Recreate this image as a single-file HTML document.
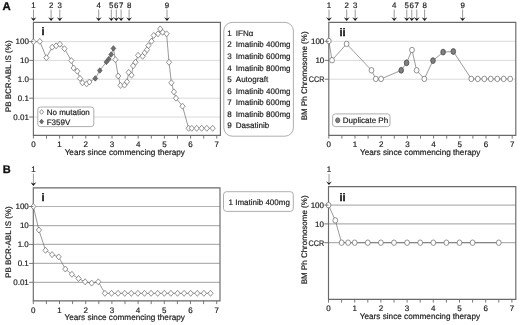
<!DOCTYPE html>
<html lang="en"><head><meta charset="utf-8"><title>Figure</title>
<style>
html,body{margin:0;padding:0;background:#fff;}
body{width:520px;height:325px;overflow:hidden;}
svg{display:block;font-family:'Liberation Sans', Arial, Helvetica, sans-serif;text-rendering:geometricPrecision;}
text{stroke:#1a1a1a;stroke-width:0.18px;}
</style></head><body>
<svg width="520" height="325" viewBox="0 0 520 325" font-family="'Liberation Sans', Arial, Helvetica, sans-serif">
<rect width="520" height="325" fill="#fff"/>
<line x1="33.4" y1="41.6" x2="220.4" y2="41.6" stroke="#d6d6d6" stroke-width="0.9"/>
<line x1="33.4" y1="60.4" x2="220.4" y2="60.4" stroke="#d6d6d6" stroke-width="0.9"/>
<line x1="33.4" y1="79.2" x2="220.4" y2="79.2" stroke="#d6d6d6" stroke-width="0.9"/>
<line x1="33.4" y1="98.2" x2="220.4" y2="98.2" stroke="#d6d6d6" stroke-width="0.9"/>
<line x1="33.4" y1="117.0" x2="220.4" y2="117.0" stroke="#d6d6d6" stroke-width="0.9"/>
<path d="M33.4 22.4H220.4V135.3H33.4Z" fill="none" stroke="#6a6a6a" stroke-width="1.15"/>
<polyline points="33.40,41.70 39.80,41.40 46.40,57.70 52.20,47.20 56.10,45.80 59.90,44.20 64.50,48.70 71.30,60.60 73.60,68.00 77.30,71.20 80.00,78.40 82.40,82.80 86.60,83.80 89.40,82.00 95.30,78.40 99.80,70.50 106.40,61.90 108.80,59.10 111.20,54.50 113.40,48.40 115.40,59.60 118.20,76.00 120.50,85.40 124.50,85.10 127.00,81.80 128.70,72.40 131.50,75.20 133.10,65.80 135.50,62.30 138.10,55.30 142.60,56.30 144.70,52.80 147.00,49.70 148.40,45.60 151.50,41.20 153.70,35.40 158.00,33.80 160.20,28.90 162.70,32.30 166.60,33.80 169.00,62.30 171.40,82.80 173.90,91.90 176.00,98.20 182.50,106.20 188.60,128.30 191.80,128.30 196.70,128.30 201.60,128.30 206.80,128.30 212.70,128.30" fill="none" stroke="#555" stroke-width="0.6"/>
<path d="M33.40 38.70L36.00 41.70L33.40 44.70L30.80 41.70Z" fill="#fff" stroke="#666" stroke-width="0.7"/>
<path d="M39.80 38.40L42.40 41.40L39.80 44.40L37.20 41.40Z" fill="#fff" stroke="#666" stroke-width="0.7"/>
<path d="M46.40 54.70L49.00 57.70L46.40 60.70L43.80 57.70Z" fill="#fff" stroke="#666" stroke-width="0.7"/>
<path d="M52.20 44.20L54.80 47.20L52.20 50.20L49.60 47.20Z" fill="#fff" stroke="#666" stroke-width="0.7"/>
<path d="M56.10 42.80L58.70 45.80L56.10 48.80L53.50 45.80Z" fill="#fff" stroke="#666" stroke-width="0.7"/>
<path d="M59.90 41.20L62.50 44.20L59.90 47.20L57.30 44.20Z" fill="#fff" stroke="#666" stroke-width="0.7"/>
<path d="M64.50 45.70L67.10 48.70L64.50 51.70L61.90 48.70Z" fill="#fff" stroke="#666" stroke-width="0.7"/>
<path d="M71.30 57.60L73.90 60.60L71.30 63.60L68.70 60.60Z" fill="#fff" stroke="#666" stroke-width="0.7"/>
<path d="M73.60 65.00L76.20 68.00L73.60 71.00L71.00 68.00Z" fill="#fff" stroke="#666" stroke-width="0.7"/>
<path d="M77.30 68.20L79.90 71.20L77.30 74.20L74.70 71.20Z" fill="#fff" stroke="#666" stroke-width="0.7"/>
<path d="M80.00 75.40L82.60 78.40L80.00 81.40L77.40 78.40Z" fill="#fff" stroke="#666" stroke-width="0.7"/>
<path d="M82.40 79.80L85.00 82.80L82.40 85.80L79.80 82.80Z" fill="#fff" stroke="#666" stroke-width="0.7"/>
<path d="M86.60 80.80L89.20 83.80L86.60 86.80L84.00 83.80Z" fill="#fff" stroke="#666" stroke-width="0.7"/>
<path d="M89.40 79.00L92.00 82.00L89.40 85.00L86.80 82.00Z" fill="#fff" stroke="#666" stroke-width="0.7"/>
<path d="M115.40 56.60L118.00 59.60L115.40 62.60L112.80 59.60Z" fill="#fff" stroke="#666" stroke-width="0.7"/>
<path d="M118.20 73.00L120.80 76.00L118.20 79.00L115.60 76.00Z" fill="#fff" stroke="#666" stroke-width="0.7"/>
<path d="M120.50 82.40L123.10 85.40L120.50 88.40L117.90 85.40Z" fill="#fff" stroke="#666" stroke-width="0.7"/>
<path d="M124.50 82.10L127.10 85.10L124.50 88.10L121.90 85.10Z" fill="#fff" stroke="#666" stroke-width="0.7"/>
<path d="M127.00 78.80L129.60 81.80L127.00 84.80L124.40 81.80Z" fill="#fff" stroke="#666" stroke-width="0.7"/>
<path d="M128.70 69.40L131.30 72.40L128.70 75.40L126.10 72.40Z" fill="#fff" stroke="#666" stroke-width="0.7"/>
<path d="M131.50 72.20L134.10 75.20L131.50 78.20L128.90 75.20Z" fill="#fff" stroke="#666" stroke-width="0.7"/>
<path d="M133.10 62.80L135.70 65.80L133.10 68.80L130.50 65.80Z" fill="#fff" stroke="#666" stroke-width="0.7"/>
<path d="M135.50 59.30L138.10 62.30L135.50 65.30L132.90 62.30Z" fill="#fff" stroke="#666" stroke-width="0.7"/>
<path d="M138.10 52.30L140.70 55.30L138.10 58.30L135.50 55.30Z" fill="#fff" stroke="#666" stroke-width="0.7"/>
<path d="M142.60 53.30L145.20 56.30L142.60 59.30L140.00 56.30Z" fill="#fff" stroke="#666" stroke-width="0.7"/>
<path d="M144.70 49.80L147.30 52.80L144.70 55.80L142.10 52.80Z" fill="#fff" stroke="#666" stroke-width="0.7"/>
<path d="M147.00 46.70L149.60 49.70L147.00 52.70L144.40 49.70Z" fill="#fff" stroke="#666" stroke-width="0.7"/>
<path d="M148.40 42.60L151.00 45.60L148.40 48.60L145.80 45.60Z" fill="#fff" stroke="#666" stroke-width="0.7"/>
<path d="M151.50 38.20L154.10 41.20L151.50 44.20L148.90 41.20Z" fill="#fff" stroke="#666" stroke-width="0.7"/>
<path d="M153.70 32.40L156.30 35.40L153.70 38.40L151.10 35.40Z" fill="#fff" stroke="#666" stroke-width="0.7"/>
<path d="M158.00 30.80L160.60 33.80L158.00 36.80L155.40 33.80Z" fill="#fff" stroke="#666" stroke-width="0.7"/>
<path d="M160.20 25.90L162.80 28.90L160.20 31.90L157.60 28.90Z" fill="#fff" stroke="#666" stroke-width="0.7"/>
<path d="M162.70 29.30L165.30 32.30L162.70 35.30L160.10 32.30Z" fill="#fff" stroke="#666" stroke-width="0.7"/>
<path d="M166.60 30.80L169.20 33.80L166.60 36.80L164.00 33.80Z" fill="#fff" stroke="#666" stroke-width="0.7"/>
<path d="M169.00 59.30L171.60 62.30L169.00 65.30L166.40 62.30Z" fill="#fff" stroke="#666" stroke-width="0.7"/>
<path d="M171.40 79.80L174.00 82.80L171.40 85.80L168.80 82.80Z" fill="#fff" stroke="#666" stroke-width="0.7"/>
<path d="M173.90 88.90L176.50 91.90L173.90 94.90L171.30 91.90Z" fill="#fff" stroke="#666" stroke-width="0.7"/>
<path d="M176.00 95.20L178.60 98.20L176.00 101.20L173.40 98.20Z" fill="#fff" stroke="#666" stroke-width="0.7"/>
<path d="M182.50 103.20L185.10 106.20L182.50 109.20L179.90 106.20Z" fill="#fff" stroke="#666" stroke-width="0.7"/>
<path d="M188.60 125.30L191.20 128.30L188.60 131.30L186.00 128.30Z" fill="#fff" stroke="#666" stroke-width="0.7"/>
<path d="M191.80 125.30L194.40 128.30L191.80 131.30L189.20 128.30Z" fill="#fff" stroke="#666" stroke-width="0.7"/>
<path d="M196.70 125.30L199.30 128.30L196.70 131.30L194.10 128.30Z" fill="#fff" stroke="#666" stroke-width="0.7"/>
<path d="M201.60 125.30L204.20 128.30L201.60 131.30L199.00 128.30Z" fill="#fff" stroke="#666" stroke-width="0.7"/>
<path d="M206.80 125.30L209.40 128.30L206.80 131.30L204.20 128.30Z" fill="#fff" stroke="#666" stroke-width="0.7"/>
<path d="M212.70 125.30L215.30 128.30L212.70 131.30L210.10 128.30Z" fill="#fff" stroke="#666" stroke-width="0.7"/>
<path d="M95.30 75.65L97.65 78.40L95.30 81.15L92.95 78.40Z" fill="#6e6e6e" stroke="#505050" stroke-width="0.7"/>
<path d="M99.80 67.75L102.15 70.50L99.80 73.25L97.45 70.50Z" fill="#6e6e6e" stroke="#505050" stroke-width="0.7"/>
<path d="M106.40 59.15L108.75 61.90L106.40 64.65L104.05 61.90Z" fill="#6e6e6e" stroke="#505050" stroke-width="0.7"/>
<path d="M108.80 56.35L111.15 59.10L108.80 61.85L106.45 59.10Z" fill="#6e6e6e" stroke="#505050" stroke-width="0.7"/>
<path d="M111.20 51.75L113.55 54.50L111.20 57.25L108.85 54.50Z" fill="#6e6e6e" stroke="#505050" stroke-width="0.7"/>
<path d="M113.40 45.65L115.75 48.40L113.40 51.15L111.05 48.40Z" fill="#6e6e6e" stroke="#505050" stroke-width="0.7"/>
<line x1="33.40" y1="135.3" x2="33.40" y2="138.60000000000002" stroke="#6a6a6a" stroke-width="0.9"/>
<text x="33.40" y="147.0" font-size="8" text-anchor="middle" font-weight="normal" fill="#1a1a1a" >0</text>
<line x1="46.50" y1="135.3" x2="46.50" y2="138.60000000000002" stroke="#6a6a6a" stroke-width="0.9"/>
<line x1="59.60" y1="135.3" x2="59.60" y2="138.60000000000002" stroke="#6a6a6a" stroke-width="0.9"/>
<text x="59.60" y="147.0" font-size="8" text-anchor="middle" font-weight="normal" fill="#1a1a1a" >1</text>
<line x1="72.70" y1="135.3" x2="72.70" y2="138.60000000000002" stroke="#6a6a6a" stroke-width="0.9"/>
<line x1="85.80" y1="135.3" x2="85.80" y2="138.60000000000002" stroke="#6a6a6a" stroke-width="0.9"/>
<text x="85.80" y="147.0" font-size="8" text-anchor="middle" font-weight="normal" fill="#1a1a1a" >2</text>
<line x1="98.90" y1="135.3" x2="98.90" y2="138.60000000000002" stroke="#6a6a6a" stroke-width="0.9"/>
<line x1="112.00" y1="135.3" x2="112.00" y2="138.60000000000002" stroke="#6a6a6a" stroke-width="0.9"/>
<text x="112.00" y="147.0" font-size="8" text-anchor="middle" font-weight="normal" fill="#1a1a1a" >3</text>
<line x1="125.10" y1="135.3" x2="125.10" y2="138.60000000000002" stroke="#6a6a6a" stroke-width="0.9"/>
<line x1="138.20" y1="135.3" x2="138.20" y2="138.60000000000002" stroke="#6a6a6a" stroke-width="0.9"/>
<text x="138.20" y="147.0" font-size="8" text-anchor="middle" font-weight="normal" fill="#1a1a1a" >4</text>
<line x1="151.30" y1="135.3" x2="151.30" y2="138.60000000000002" stroke="#6a6a6a" stroke-width="0.9"/>
<line x1="164.40" y1="135.3" x2="164.40" y2="138.60000000000002" stroke="#6a6a6a" stroke-width="0.9"/>
<text x="164.40" y="147.0" font-size="8" text-anchor="middle" font-weight="normal" fill="#1a1a1a" >5</text>
<line x1="177.50" y1="135.3" x2="177.50" y2="138.60000000000002" stroke="#6a6a6a" stroke-width="0.9"/>
<line x1="190.60" y1="135.3" x2="190.60" y2="138.60000000000002" stroke="#6a6a6a" stroke-width="0.9"/>
<text x="190.60" y="147.0" font-size="8" text-anchor="middle" font-weight="normal" fill="#1a1a1a" >6</text>
<line x1="203.70" y1="135.3" x2="203.70" y2="138.60000000000002" stroke="#6a6a6a" stroke-width="0.9"/>
<line x1="216.80" y1="135.3" x2="216.80" y2="138.60000000000002" stroke="#6a6a6a" stroke-width="0.9"/>
<text x="216.80" y="147.0" font-size="8" text-anchor="middle" font-weight="normal" fill="#1a1a1a" >7</text>
<text x="124.80" y="154.8" font-size="8.2" text-anchor="middle" font-weight="normal" fill="#1a1a1a" >Years since commencing therapy</text>
<line x1="29.2" y1="41.6" x2="33.4" y2="41.6" stroke="#6a6a6a" stroke-width="0.9"/>
<text x="28.9" y="44.45" font-size="8" text-anchor="end" font-weight="normal" fill="#1a1a1a" >100</text>
<line x1="29.2" y1="60.4" x2="33.4" y2="60.4" stroke="#6a6a6a" stroke-width="0.9"/>
<text x="28.9" y="63.25" font-size="8" text-anchor="end" font-weight="normal" fill="#1a1a1a" >10</text>
<line x1="29.2" y1="79.2" x2="33.4" y2="79.2" stroke="#6a6a6a" stroke-width="0.9"/>
<text x="28.9" y="82.05" font-size="8" text-anchor="end" font-weight="normal" fill="#1a1a1a" >1.0</text>
<line x1="29.2" y1="98.2" x2="33.4" y2="98.2" stroke="#6a6a6a" stroke-width="0.9"/>
<text x="28.9" y="101.05" font-size="8" text-anchor="end" font-weight="normal" fill="#1a1a1a" >0.1</text>
<line x1="29.2" y1="117.0" x2="33.4" y2="117.0" stroke="#6a6a6a" stroke-width="0.9"/>
<text x="28.9" y="119.85" font-size="8" text-anchor="end" font-weight="normal" fill="#1a1a1a" >0.01</text>
<text transform="translate(10.5 76.3) rotate(-90)" font-size="8" text-anchor="middle" fill="#1a1a1a">PB BCR-ABL IS (%)</text>
<text x="41.6" y="35.3" font-size="11" text-anchor="start" font-weight="bold" fill="#111" style="stroke:#111;stroke-width:0.3px">i</text>
<rect x="37.8" y="107" width="56" height="19.6" rx="2.6" fill="#fff" stroke="#999" stroke-width="0.8"/>
<path d="M41.60 109.60L43.60 112.00L41.60 114.40L39.60 112.00Z" fill="#fff" stroke="#666" stroke-width="0.7"/>
<path d="M41.60 119.20L43.60 121.60L41.60 124.00L39.60 121.60Z" fill="#6e6e6e" stroke="#505050" stroke-width="0.7"/>
<text x="46.7" y="114.9" font-size="8" text-anchor="start" font-weight="normal" fill="#1a1a1a" >No mutation</text>
<text x="46.7" y="124.6" font-size="8" text-anchor="start" font-weight="normal" fill="#1a1a1a" >F359V</text>
<line x1="33.5" y1="9.6" x2="33.5" y2="19.9" stroke="#555" stroke-width="0.6"/>
<path d="M30.60 17.30L33.50 18.80L36.40 17.30L33.50 20.90Z" fill="#111"/>
<text x="33.5" y="8.1" font-size="7.9" text-anchor="middle" font-weight="normal" fill="#1a1a1a" >1</text>
<line x1="51.1" y1="9.6" x2="51.1" y2="19.9" stroke="#555" stroke-width="0.6"/>
<path d="M48.20 17.30L51.10 18.80L54.00 17.30L51.10 20.90Z" fill="#111"/>
<text x="51.1" y="8.1" font-size="7.9" text-anchor="middle" font-weight="normal" fill="#1a1a1a" >2</text>
<line x1="59.8" y1="9.6" x2="59.8" y2="19.9" stroke="#555" stroke-width="0.6"/>
<path d="M56.90 17.30L59.80 18.80L62.70 17.30L59.80 20.90Z" fill="#111"/>
<text x="59.8" y="8.1" font-size="7.9" text-anchor="middle" font-weight="normal" fill="#1a1a1a" >3</text>
<line x1="98.7" y1="9.6" x2="98.7" y2="19.9" stroke="#555" stroke-width="0.6"/>
<path d="M95.80 17.30L98.70 18.80L101.60 17.30L98.70 20.90Z" fill="#111"/>
<text x="98.7" y="8.1" font-size="7.9" text-anchor="middle" font-weight="normal" fill="#1a1a1a" >4</text>
<line x1="111.3" y1="9.6" x2="111.3" y2="19.9" stroke="#555" stroke-width="0.6"/>
<path d="M108.40 17.30L111.30 18.80L114.20 17.30L111.30 20.90Z" fill="#111"/>
<text x="111.3" y="8.1" font-size="7.9" text-anchor="middle" font-weight="normal" fill="#1a1a1a" >5</text>
<line x1="116.3" y1="9.6" x2="116.3" y2="19.9" stroke="#555" stroke-width="0.6"/>
<path d="M113.40 17.30L116.30 18.80L119.20 17.30L116.30 20.90Z" fill="#111"/>
<text x="116.3" y="8.1" font-size="7.9" text-anchor="middle" font-weight="normal" fill="#1a1a1a" >6</text>
<line x1="121.1" y1="9.6" x2="121.1" y2="19.9" stroke="#555" stroke-width="0.6"/>
<path d="M118.20 17.30L121.10 18.80L124.00 17.30L121.10 20.90Z" fill="#111"/>
<text x="121.1" y="8.1" font-size="7.9" text-anchor="middle" font-weight="normal" fill="#1a1a1a" >7</text>
<line x1="129.1" y1="9.6" x2="129.1" y2="19.9" stroke="#555" stroke-width="0.6"/>
<path d="M126.20 17.30L129.10 18.80L132.00 17.30L129.10 20.90Z" fill="#111"/>
<text x="129.1" y="8.1" font-size="7.9" text-anchor="middle" font-weight="normal" fill="#1a1a1a" >8</text>
<line x1="167.0" y1="9.6" x2="167.0" y2="19.9" stroke="#555" stroke-width="0.6"/>
<path d="M164.10 17.30L167.00 18.80L169.90 17.30L167.00 20.90Z" fill="#111"/>
<text x="167.0" y="8.1" font-size="7.9" text-anchor="middle" font-weight="normal" fill="#1a1a1a" >9</text>
<text x="2.6" y="9.9" font-size="11.4" text-anchor="start" font-weight="bold" fill="#111" style="stroke:#111;stroke-width:0.3px">A</text>
<rect x="223.8" y="22.4" width="69.6" height="113.8" rx="8.5" fill="#fff" stroke="#999" stroke-width="0.8"/>
<text x="227.3" y="35.80" font-size="8" text-anchor="start" font-weight="normal" fill="#1a1a1a" >1</text>
<text x="235.8" y="35.80" font-size="8" text-anchor="start" font-weight="normal" fill="#1a1a1a" >IFNα</text>
<text x="227.3" y="47.38" font-size="8" text-anchor="start" font-weight="normal" fill="#1a1a1a" >2</text>
<text x="235.8" y="47.38" font-size="8" text-anchor="start" font-weight="normal" fill="#1a1a1a" >Imatinib 400mg</text>
<text x="227.3" y="58.96" font-size="8" text-anchor="start" font-weight="normal" fill="#1a1a1a" >3</text>
<text x="235.8" y="58.96" font-size="8" text-anchor="start" font-weight="normal" fill="#1a1a1a" >Imatinib 600mg</text>
<text x="227.3" y="70.54" font-size="8" text-anchor="start" font-weight="normal" fill="#1a1a1a" >4</text>
<text x="235.8" y="70.54" font-size="8" text-anchor="start" font-weight="normal" fill="#1a1a1a" >Imatinib 800mg</text>
<text x="227.3" y="82.12" font-size="8" text-anchor="start" font-weight="normal" fill="#1a1a1a" >5</text>
<text x="235.8" y="82.12" font-size="8" text-anchor="start" font-weight="normal" fill="#1a1a1a" >Autograft</text>
<text x="227.3" y="93.70" font-size="8" text-anchor="start" font-weight="normal" fill="#1a1a1a" >6</text>
<text x="235.8" y="93.70" font-size="8" text-anchor="start" font-weight="normal" fill="#1a1a1a" >Imatinib 400mg</text>
<text x="227.3" y="105.28" font-size="8" text-anchor="start" font-weight="normal" fill="#1a1a1a" >7</text>
<text x="235.8" y="105.28" font-size="8" text-anchor="start" font-weight="normal" fill="#1a1a1a" >Imatinib 600mg</text>
<text x="227.3" y="116.86" font-size="8" text-anchor="start" font-weight="normal" fill="#1a1a1a" >8</text>
<text x="235.8" y="116.86" font-size="8" text-anchor="start" font-weight="normal" fill="#1a1a1a" >Imatinib 800mg</text>
<text x="227.3" y="128.44" font-size="8" text-anchor="start" font-weight="normal" fill="#1a1a1a" >9</text>
<text x="235.8" y="128.44" font-size="8" text-anchor="start" font-weight="normal" fill="#1a1a1a" >Dasatinib</text>
<line x1="328.8" y1="41.3" x2="515.8" y2="41.3" stroke="#d6d6d6" stroke-width="0.9"/>
<line x1="328.8" y1="60.4" x2="515.8" y2="60.4" stroke="#d6d6d6" stroke-width="0.9"/>
<line x1="328.8" y1="79.2" x2="515.8" y2="79.2" stroke="#d6d6d6" stroke-width="0.9"/>
<path d="M328.8 22.4H515.8V135.3H328.8Z" fill="none" stroke="#6a6a6a" stroke-width="1.15"/>
<polyline points="328.80,41.00 332.00,60.20 346.60,43.90 371.50,70.30 375.80,78.90 381.10,78.90 401.20,70.30 406.60,62.80 412.00,50.00 416.60,70.30 424.30,78.90 433.00,60.60 443.10,52.10 453.30,51.50 471.30,78.90 477.80,78.90 484.30,78.90 490.80,78.90 497.30,78.90 503.70,78.90 510.20,78.90" fill="none" stroke="#555" stroke-width="0.6"/>
<ellipse cx="328.80" cy="41.00" rx="2.4" ry="2.75" fill="#fff" stroke="#666" stroke-width="0.7"/>
<ellipse cx="332.00" cy="60.20" rx="2.4" ry="2.75" fill="#fff" stroke="#666" stroke-width="0.7"/>
<ellipse cx="346.60" cy="43.90" rx="2.4" ry="2.75" fill="#fff" stroke="#666" stroke-width="0.7"/>
<ellipse cx="371.50" cy="70.30" rx="2.4" ry="2.75" fill="#fff" stroke="#666" stroke-width="0.7"/>
<ellipse cx="375.80" cy="78.90" rx="2.4" ry="2.75" fill="#fff" stroke="#666" stroke-width="0.7"/>
<ellipse cx="381.10" cy="78.90" rx="2.4" ry="2.75" fill="#fff" stroke="#666" stroke-width="0.7"/>
<ellipse cx="401.20" cy="70.30" rx="2.3" ry="2.9" fill="#808080" stroke="#484848" stroke-width="0.8"/>
<ellipse cx="406.60" cy="62.80" rx="2.3" ry="2.9" fill="#808080" stroke="#484848" stroke-width="0.8"/>
<ellipse cx="412.00" cy="50.00" rx="2.4" ry="2.75" fill="#fff" stroke="#666" stroke-width="0.7"/>
<ellipse cx="416.60" cy="70.30" rx="2.4" ry="2.75" fill="#fff" stroke="#666" stroke-width="0.7"/>
<ellipse cx="424.30" cy="78.90" rx="2.4" ry="2.75" fill="#fff" stroke="#666" stroke-width="0.7"/>
<ellipse cx="433.00" cy="60.60" rx="2.3" ry="2.9" fill="#808080" stroke="#484848" stroke-width="0.8"/>
<ellipse cx="443.10" cy="52.10" rx="2.3" ry="2.9" fill="#808080" stroke="#484848" stroke-width="0.8"/>
<ellipse cx="453.30" cy="51.50" rx="2.3" ry="2.9" fill="#808080" stroke="#484848" stroke-width="0.8"/>
<ellipse cx="471.30" cy="78.90" rx="2.4" ry="2.75" fill="#fff" stroke="#666" stroke-width="0.7"/>
<ellipse cx="477.80" cy="78.90" rx="2.4" ry="2.75" fill="#fff" stroke="#666" stroke-width="0.7"/>
<ellipse cx="484.30" cy="78.90" rx="2.4" ry="2.75" fill="#fff" stroke="#666" stroke-width="0.7"/>
<ellipse cx="490.80" cy="78.90" rx="2.4" ry="2.75" fill="#fff" stroke="#666" stroke-width="0.7"/>
<ellipse cx="497.30" cy="78.90" rx="2.4" ry="2.75" fill="#fff" stroke="#666" stroke-width="0.7"/>
<ellipse cx="503.70" cy="78.90" rx="2.4" ry="2.75" fill="#fff" stroke="#666" stroke-width="0.7"/>
<ellipse cx="510.20" cy="78.90" rx="2.4" ry="2.75" fill="#fff" stroke="#666" stroke-width="0.7"/>
<line x1="328.80" y1="135.3" x2="328.80" y2="138.60000000000002" stroke="#6a6a6a" stroke-width="0.9"/>
<text x="328.80" y="147.0" font-size="8" text-anchor="middle" font-weight="normal" fill="#1a1a1a" >0</text>
<line x1="341.90" y1="135.3" x2="341.90" y2="138.60000000000002" stroke="#6a6a6a" stroke-width="0.9"/>
<line x1="355.00" y1="135.3" x2="355.00" y2="138.60000000000002" stroke="#6a6a6a" stroke-width="0.9"/>
<text x="355.00" y="147.0" font-size="8" text-anchor="middle" font-weight="normal" fill="#1a1a1a" >1</text>
<line x1="368.10" y1="135.3" x2="368.10" y2="138.60000000000002" stroke="#6a6a6a" stroke-width="0.9"/>
<line x1="381.20" y1="135.3" x2="381.20" y2="138.60000000000002" stroke="#6a6a6a" stroke-width="0.9"/>
<text x="381.20" y="147.0" font-size="8" text-anchor="middle" font-weight="normal" fill="#1a1a1a" >2</text>
<line x1="394.30" y1="135.3" x2="394.30" y2="138.60000000000002" stroke="#6a6a6a" stroke-width="0.9"/>
<line x1="407.40" y1="135.3" x2="407.40" y2="138.60000000000002" stroke="#6a6a6a" stroke-width="0.9"/>
<text x="407.40" y="147.0" font-size="8" text-anchor="middle" font-weight="normal" fill="#1a1a1a" >3</text>
<line x1="420.50" y1="135.3" x2="420.50" y2="138.60000000000002" stroke="#6a6a6a" stroke-width="0.9"/>
<line x1="433.60" y1="135.3" x2="433.60" y2="138.60000000000002" stroke="#6a6a6a" stroke-width="0.9"/>
<text x="433.60" y="147.0" font-size="8" text-anchor="middle" font-weight="normal" fill="#1a1a1a" >4</text>
<line x1="446.70" y1="135.3" x2="446.70" y2="138.60000000000002" stroke="#6a6a6a" stroke-width="0.9"/>
<line x1="459.80" y1="135.3" x2="459.80" y2="138.60000000000002" stroke="#6a6a6a" stroke-width="0.9"/>
<text x="459.80" y="147.0" font-size="8" text-anchor="middle" font-weight="normal" fill="#1a1a1a" >5</text>
<line x1="472.90" y1="135.3" x2="472.90" y2="138.60000000000002" stroke="#6a6a6a" stroke-width="0.9"/>
<line x1="486.00" y1="135.3" x2="486.00" y2="138.60000000000002" stroke="#6a6a6a" stroke-width="0.9"/>
<text x="486.00" y="147.0" font-size="8" text-anchor="middle" font-weight="normal" fill="#1a1a1a" >6</text>
<line x1="499.10" y1="135.3" x2="499.10" y2="138.60000000000002" stroke="#6a6a6a" stroke-width="0.9"/>
<line x1="512.20" y1="135.3" x2="512.20" y2="138.60000000000002" stroke="#6a6a6a" stroke-width="0.9"/>
<text x="512.20" y="147.0" font-size="8" text-anchor="middle" font-weight="normal" fill="#1a1a1a" >7</text>
<text x="420.20" y="154.8" font-size="8.2" text-anchor="middle" font-weight="normal" fill="#1a1a1a" >Years since commencing therapy</text>
<line x1="324.6" y1="41.3" x2="328.8" y2="41.3" stroke="#6a6a6a" stroke-width="0.9"/>
<text x="324.3" y="44.15" font-size="8" text-anchor="end" font-weight="normal" fill="#1a1a1a" >100</text>
<line x1="324.6" y1="60.4" x2="328.8" y2="60.4" stroke="#6a6a6a" stroke-width="0.9"/>
<text x="324.3" y="63.25" font-size="8" text-anchor="end" font-weight="normal" fill="#1a1a1a" >10</text>
<line x1="324.6" y1="79.2" x2="328.8" y2="79.2" stroke="#6a6a6a" stroke-width="0.9"/>
<text x="324.4" y="82.05" font-size="8" text-anchor="end" font-weight="normal" fill="#1a1a1a" textLength="15.6" lengthAdjust="spacingAndGlyphs">CCR</text>
<text transform="translate(306.5 75.9) rotate(-90)" font-size="8" text-anchor="middle" fill="#1a1a1a">BM Ph Chromosome (%)</text>
<text x="339.4" y="35.8" font-size="11" text-anchor="start" font-weight="bold" fill="#111" style="stroke:#111;stroke-width:0.3px">ii</text>
<rect x="332.6" y="113.9" width="57.4" height="12.7" rx="2.6" fill="#fff" stroke="#999" stroke-width="0.8"/>
<ellipse cx="337.70" cy="120.30" rx="2.1" ry="2.5" fill="#808080" stroke="#484848" stroke-width="0.7"/>
<text x="342.8" y="123.1" font-size="8" text-anchor="start" font-weight="normal" fill="#1a1a1a" >Duplicate Ph</text>
<line x1="329.0" y1="9.6" x2="329.0" y2="19.9" stroke="#555" stroke-width="0.6"/>
<path d="M326.10 17.30L329.00 18.80L331.90 17.30L329.00 20.90Z" fill="#111"/>
<text x="329.0" y="8.1" font-size="7.9" text-anchor="middle" font-weight="normal" fill="#1a1a1a" >1</text>
<line x1="346.7" y1="9.6" x2="346.7" y2="19.9" stroke="#555" stroke-width="0.6"/>
<path d="M343.80 17.30L346.70 18.80L349.60 17.30L346.70 20.90Z" fill="#111"/>
<text x="346.7" y="8.1" font-size="7.9" text-anchor="middle" font-weight="normal" fill="#1a1a1a" >2</text>
<line x1="355.2" y1="9.6" x2="355.2" y2="19.9" stroke="#555" stroke-width="0.6"/>
<path d="M352.30 17.30L355.20 18.80L358.10 17.30L355.20 20.90Z" fill="#111"/>
<text x="355.2" y="8.1" font-size="7.9" text-anchor="middle" font-weight="normal" fill="#1a1a1a" >3</text>
<line x1="394.2" y1="9.6" x2="394.2" y2="19.9" stroke="#555" stroke-width="0.6"/>
<path d="M391.30 17.30L394.20 18.80L397.10 17.30L394.20 20.90Z" fill="#111"/>
<text x="394.2" y="8.1" font-size="7.9" text-anchor="middle" font-weight="normal" fill="#1a1a1a" >4</text>
<line x1="406.8" y1="9.6" x2="406.8" y2="19.9" stroke="#555" stroke-width="0.6"/>
<path d="M403.90 17.30L406.80 18.80L409.70 17.30L406.80 20.90Z" fill="#111"/>
<text x="406.8" y="8.1" font-size="7.9" text-anchor="middle" font-weight="normal" fill="#1a1a1a" >5</text>
<line x1="411.8" y1="9.6" x2="411.8" y2="19.9" stroke="#555" stroke-width="0.6"/>
<path d="M408.90 17.30L411.80 18.80L414.70 17.30L411.80 20.90Z" fill="#111"/>
<text x="411.8" y="8.1" font-size="7.9" text-anchor="middle" font-weight="normal" fill="#1a1a1a" >6</text>
<line x1="416.8" y1="9.6" x2="416.8" y2="19.9" stroke="#555" stroke-width="0.6"/>
<path d="M413.90 17.30L416.80 18.80L419.70 17.30L416.80 20.90Z" fill="#111"/>
<text x="416.8" y="8.1" font-size="7.9" text-anchor="middle" font-weight="normal" fill="#1a1a1a" >7</text>
<line x1="424.6" y1="9.6" x2="424.6" y2="19.9" stroke="#555" stroke-width="0.6"/>
<path d="M421.70 17.30L424.60 18.80L427.50 17.30L424.60 20.90Z" fill="#111"/>
<text x="424.6" y="8.1" font-size="7.9" text-anchor="middle" font-weight="normal" fill="#1a1a1a" >8</text>
<line x1="462.6" y1="9.6" x2="462.6" y2="19.9" stroke="#555" stroke-width="0.6"/>
<path d="M459.70 17.30L462.60 18.80L465.50 17.30L462.60 20.90Z" fill="#111"/>
<text x="462.6" y="8.1" font-size="7.9" text-anchor="middle" font-weight="normal" fill="#1a1a1a" >9</text>
<line x1="33.3" y1="206.5" x2="220.0" y2="206.5" stroke="#b2b2b2" stroke-width="1.2"/>
<line x1="33.3" y1="225.6" x2="220.0" y2="225.6" stroke="#b2b2b2" stroke-width="1.2"/>
<line x1="33.3" y1="244.4" x2="220.0" y2="244.4" stroke="#b2b2b2" stroke-width="1.2"/>
<line x1="33.3" y1="263.4" x2="220.0" y2="263.4" stroke="#b2b2b2" stroke-width="1.2"/>
<line x1="33.3" y1="282.3" x2="220.0" y2="282.3" stroke="#b2b2b2" stroke-width="1.2"/>
<path d="M33.3 187.9H220.0V300.8H33.3Z" fill="none" stroke="#6a6a6a" stroke-width="1.15"/>
<polyline points="33.30,206.50 38.90,230.00 45.50,250.30 52.10,254.60 58.70,256.90 65.30,269.00 71.90,274.30 78.50,278.50 85.10,281.80 91.70,283.10 98.30,281.80 104.90,293.30 111.50,293.30 118.10,293.30 124.70,293.30 131.30,293.30 137.90,293.30 144.50,293.30 151.10,293.30 157.70,293.30 164.30,293.30 170.90,293.30 177.50,293.30 184.10,293.30 190.70,293.30 197.30,293.30 203.90,293.30 210.50,293.30" fill="none" stroke="#555" stroke-width="0.6"/>
<path d="M33.30 203.50L35.90 206.50L33.30 209.50L30.70 206.50Z" fill="#fff" stroke="#666" stroke-width="0.7"/>
<path d="M38.90 227.00L41.50 230.00L38.90 233.00L36.30 230.00Z" fill="#fff" stroke="#666" stroke-width="0.7"/>
<path d="M45.50 247.30L48.10 250.30L45.50 253.30L42.90 250.30Z" fill="#fff" stroke="#666" stroke-width="0.7"/>
<path d="M52.10 251.60L54.70 254.60L52.10 257.60L49.50 254.60Z" fill="#fff" stroke="#666" stroke-width="0.7"/>
<path d="M58.70 253.90L61.30 256.90L58.70 259.90L56.10 256.90Z" fill="#fff" stroke="#666" stroke-width="0.7"/>
<path d="M65.30 266.00L67.90 269.00L65.30 272.00L62.70 269.00Z" fill="#fff" stroke="#666" stroke-width="0.7"/>
<path d="M71.90 271.30L74.50 274.30L71.90 277.30L69.30 274.30Z" fill="#fff" stroke="#666" stroke-width="0.7"/>
<path d="M78.50 275.50L81.10 278.50L78.50 281.50L75.90 278.50Z" fill="#fff" stroke="#666" stroke-width="0.7"/>
<path d="M85.10 278.80L87.70 281.80L85.10 284.80L82.50 281.80Z" fill="#fff" stroke="#666" stroke-width="0.7"/>
<path d="M91.70 280.10L94.30 283.10L91.70 286.10L89.10 283.10Z" fill="#fff" stroke="#666" stroke-width="0.7"/>
<path d="M98.30 278.80L100.90 281.80L98.30 284.80L95.70 281.80Z" fill="#fff" stroke="#666" stroke-width="0.7"/>
<path d="M104.90 290.30L107.50 293.30L104.90 296.30L102.30 293.30Z" fill="#fff" stroke="#666" stroke-width="0.7"/>
<path d="M111.50 290.30L114.10 293.30L111.50 296.30L108.90 293.30Z" fill="#fff" stroke="#666" stroke-width="0.7"/>
<path d="M118.10 290.30L120.70 293.30L118.10 296.30L115.50 293.30Z" fill="#fff" stroke="#666" stroke-width="0.7"/>
<path d="M124.70 290.30L127.30 293.30L124.70 296.30L122.10 293.30Z" fill="#fff" stroke="#666" stroke-width="0.7"/>
<path d="M131.30 290.30L133.90 293.30L131.30 296.30L128.70 293.30Z" fill="#fff" stroke="#666" stroke-width="0.7"/>
<path d="M137.90 290.30L140.50 293.30L137.90 296.30L135.30 293.30Z" fill="#fff" stroke="#666" stroke-width="0.7"/>
<path d="M144.50 290.30L147.10 293.30L144.50 296.30L141.90 293.30Z" fill="#fff" stroke="#666" stroke-width="0.7"/>
<path d="M151.10 290.30L153.70 293.30L151.10 296.30L148.50 293.30Z" fill="#fff" stroke="#666" stroke-width="0.7"/>
<path d="M157.70 290.30L160.30 293.30L157.70 296.30L155.10 293.30Z" fill="#fff" stroke="#666" stroke-width="0.7"/>
<path d="M164.30 290.30L166.90 293.30L164.30 296.30L161.70 293.30Z" fill="#fff" stroke="#666" stroke-width="0.7"/>
<path d="M170.90 290.30L173.50 293.30L170.90 296.30L168.30 293.30Z" fill="#fff" stroke="#666" stroke-width="0.7"/>
<path d="M177.50 290.30L180.10 293.30L177.50 296.30L174.90 293.30Z" fill="#fff" stroke="#666" stroke-width="0.7"/>
<path d="M184.10 290.30L186.70 293.30L184.10 296.30L181.50 293.30Z" fill="#fff" stroke="#666" stroke-width="0.7"/>
<path d="M190.70 290.30L193.30 293.30L190.70 296.30L188.10 293.30Z" fill="#fff" stroke="#666" stroke-width="0.7"/>
<path d="M197.30 290.30L199.90 293.30L197.30 296.30L194.70 293.30Z" fill="#fff" stroke="#666" stroke-width="0.7"/>
<path d="M203.90 290.30L206.50 293.30L203.90 296.30L201.30 293.30Z" fill="#fff" stroke="#666" stroke-width="0.7"/>
<path d="M210.50 290.30L213.10 293.30L210.50 296.30L207.90 293.30Z" fill="#fff" stroke="#666" stroke-width="0.7"/>
<line x1="33.30" y1="300.8" x2="33.30" y2="304.1" stroke="#6a6a6a" stroke-width="0.9"/>
<text x="33.30" y="312.5" font-size="8" text-anchor="middle" font-weight="normal" fill="#1a1a1a" >0</text>
<line x1="46.40" y1="300.8" x2="46.40" y2="304.1" stroke="#6a6a6a" stroke-width="0.9"/>
<line x1="59.50" y1="300.8" x2="59.50" y2="304.1" stroke="#6a6a6a" stroke-width="0.9"/>
<text x="59.50" y="312.5" font-size="8" text-anchor="middle" font-weight="normal" fill="#1a1a1a" >1</text>
<line x1="72.60" y1="300.8" x2="72.60" y2="304.1" stroke="#6a6a6a" stroke-width="0.9"/>
<line x1="85.70" y1="300.8" x2="85.70" y2="304.1" stroke="#6a6a6a" stroke-width="0.9"/>
<text x="85.70" y="312.5" font-size="8" text-anchor="middle" font-weight="normal" fill="#1a1a1a" >2</text>
<line x1="98.80" y1="300.8" x2="98.80" y2="304.1" stroke="#6a6a6a" stroke-width="0.9"/>
<line x1="111.90" y1="300.8" x2="111.90" y2="304.1" stroke="#6a6a6a" stroke-width="0.9"/>
<text x="111.90" y="312.5" font-size="8" text-anchor="middle" font-weight="normal" fill="#1a1a1a" >3</text>
<line x1="125.00" y1="300.8" x2="125.00" y2="304.1" stroke="#6a6a6a" stroke-width="0.9"/>
<line x1="138.10" y1="300.8" x2="138.10" y2="304.1" stroke="#6a6a6a" stroke-width="0.9"/>
<text x="138.10" y="312.5" font-size="8" text-anchor="middle" font-weight="normal" fill="#1a1a1a" >4</text>
<line x1="151.20" y1="300.8" x2="151.20" y2="304.1" stroke="#6a6a6a" stroke-width="0.9"/>
<line x1="164.30" y1="300.8" x2="164.30" y2="304.1" stroke="#6a6a6a" stroke-width="0.9"/>
<text x="164.30" y="312.5" font-size="8" text-anchor="middle" font-weight="normal" fill="#1a1a1a" >5</text>
<line x1="177.40" y1="300.8" x2="177.40" y2="304.1" stroke="#6a6a6a" stroke-width="0.9"/>
<line x1="190.50" y1="300.8" x2="190.50" y2="304.1" stroke="#6a6a6a" stroke-width="0.9"/>
<text x="190.50" y="312.5" font-size="8" text-anchor="middle" font-weight="normal" fill="#1a1a1a" >6</text>
<line x1="203.60" y1="300.8" x2="203.60" y2="304.1" stroke="#6a6a6a" stroke-width="0.9"/>
<line x1="216.70" y1="300.8" x2="216.70" y2="304.1" stroke="#6a6a6a" stroke-width="0.9"/>
<text x="216.70" y="312.5" font-size="8" text-anchor="middle" font-weight="normal" fill="#1a1a1a" >7</text>
<text x="124.70" y="320.3" font-size="8.2" text-anchor="middle" font-weight="normal" fill="#1a1a1a" >Years since commencing therapy</text>
<line x1="29.099999999999998" y1="206.5" x2="33.3" y2="206.5" stroke="#6a6a6a" stroke-width="0.9"/>
<text x="28.8" y="209.35" font-size="8" text-anchor="end" font-weight="normal" fill="#1a1a1a" >100</text>
<line x1="29.099999999999998" y1="225.6" x2="33.3" y2="225.6" stroke="#6a6a6a" stroke-width="0.9"/>
<text x="28.8" y="228.45" font-size="8" text-anchor="end" font-weight="normal" fill="#1a1a1a" >10</text>
<line x1="29.099999999999998" y1="244.4" x2="33.3" y2="244.4" stroke="#6a6a6a" stroke-width="0.9"/>
<text x="28.8" y="247.25" font-size="8" text-anchor="end" font-weight="normal" fill="#1a1a1a" >1.0</text>
<line x1="29.099999999999998" y1="263.4" x2="33.3" y2="263.4" stroke="#6a6a6a" stroke-width="0.9"/>
<text x="28.8" y="266.25" font-size="8" text-anchor="end" font-weight="normal" fill="#1a1a1a" >0.1</text>
<line x1="29.099999999999998" y1="282.3" x2="33.3" y2="282.3" stroke="#6a6a6a" stroke-width="0.9"/>
<text x="28.8" y="285.15" font-size="8" text-anchor="end" font-weight="normal" fill="#1a1a1a" >0.01</text>
<text transform="translate(10.5 242.1) rotate(-90)" font-size="8" text-anchor="middle" fill="#1a1a1a">PB BCR-ABL IS (%)</text>
<text x="41.6" y="200.6" font-size="11" text-anchor="start" font-weight="bold" fill="#111" style="stroke:#111;stroke-width:0.3px">i</text>
<line x1="33.4" y1="173.6" x2="33.4" y2="184.9" stroke="#555" stroke-width="0.6"/>
<path d="M30.50 182.30L33.40 183.80L36.30 182.30L33.40 185.90Z" fill="#111"/>
<text x="33.4" y="172.0" font-size="7.9" text-anchor="middle" font-weight="normal" fill="#1a1a1a" >1</text>
<text x="2.8" y="172.9" font-size="11.0" text-anchor="start" font-weight="bold" fill="#111" style="stroke:#111;stroke-width:0.3px">B</text>
<rect x="223.5" y="191.7" width="69.8" height="19.7" rx="3" fill="#fff" stroke="#999" stroke-width="0.8"/>
<text x="228.5" y="204.6" font-size="8" text-anchor="start" font-weight="normal" fill="#1a1a1a" >1 Imatinib 400mg</text>
<line x1="328.5" y1="205.1" x2="515.8" y2="205.1" stroke="#b2b2b2" stroke-width="1.2"/>
<line x1="328.5" y1="223.9" x2="515.8" y2="223.9" stroke="#b2b2b2" stroke-width="1.2"/>
<line x1="328.5" y1="242.7" x2="515.8" y2="242.7" stroke="#b2b2b2" stroke-width="1.2"/>
<path d="M328.5 186.6H515.8V299.3H328.5Z" fill="none" stroke="#6a6a6a" stroke-width="1.15"/>
<polyline points="328.50,205.10 335.30,220.40 341.60,242.70 348.15,242.70 354.70,242.70 367.80,242.70 380.90,242.70 394.00,242.70 407.10,242.70 420.20,242.70 433.30,242.70 446.40,242.70 459.50,242.70 472.60,242.70 498.80,242.70" fill="none" stroke="#555" stroke-width="0.6"/>
<ellipse cx="328.50" cy="205.10" rx="2.4" ry="2.75" fill="#fff" stroke="#666" stroke-width="0.7"/>
<ellipse cx="335.30" cy="220.40" rx="2.4" ry="2.75" fill="#fff" stroke="#666" stroke-width="0.7"/>
<ellipse cx="341.60" cy="242.70" rx="2.4" ry="2.75" fill="#fff" stroke="#666" stroke-width="0.7"/>
<ellipse cx="348.15" cy="242.70" rx="2.4" ry="2.75" fill="#fff" stroke="#666" stroke-width="0.7"/>
<ellipse cx="354.70" cy="242.70" rx="2.4" ry="2.75" fill="#fff" stroke="#666" stroke-width="0.7"/>
<ellipse cx="367.80" cy="242.70" rx="2.4" ry="2.75" fill="#fff" stroke="#666" stroke-width="0.7"/>
<ellipse cx="380.90" cy="242.70" rx="2.4" ry="2.75" fill="#fff" stroke="#666" stroke-width="0.7"/>
<ellipse cx="394.00" cy="242.70" rx="2.4" ry="2.75" fill="#fff" stroke="#666" stroke-width="0.7"/>
<ellipse cx="407.10" cy="242.70" rx="2.4" ry="2.75" fill="#fff" stroke="#666" stroke-width="0.7"/>
<ellipse cx="420.20" cy="242.70" rx="2.4" ry="2.75" fill="#fff" stroke="#666" stroke-width="0.7"/>
<ellipse cx="433.30" cy="242.70" rx="2.4" ry="2.75" fill="#fff" stroke="#666" stroke-width="0.7"/>
<ellipse cx="446.40" cy="242.70" rx="2.4" ry="2.75" fill="#fff" stroke="#666" stroke-width="0.7"/>
<ellipse cx="459.50" cy="242.70" rx="2.4" ry="2.75" fill="#fff" stroke="#666" stroke-width="0.7"/>
<ellipse cx="472.60" cy="242.70" rx="2.4" ry="2.75" fill="#fff" stroke="#666" stroke-width="0.7"/>
<ellipse cx="498.80" cy="242.70" rx="2.4" ry="2.75" fill="#fff" stroke="#666" stroke-width="0.7"/>
<line x1="328.50" y1="299.3" x2="328.50" y2="302.6" stroke="#6a6a6a" stroke-width="0.9"/>
<text x="328.50" y="311.0" font-size="8" text-anchor="middle" font-weight="normal" fill="#1a1a1a" >0</text>
<line x1="341.60" y1="299.3" x2="341.60" y2="302.6" stroke="#6a6a6a" stroke-width="0.9"/>
<line x1="354.70" y1="299.3" x2="354.70" y2="302.6" stroke="#6a6a6a" stroke-width="0.9"/>
<text x="354.70" y="311.0" font-size="8" text-anchor="middle" font-weight="normal" fill="#1a1a1a" >1</text>
<line x1="367.80" y1="299.3" x2="367.80" y2="302.6" stroke="#6a6a6a" stroke-width="0.9"/>
<line x1="380.90" y1="299.3" x2="380.90" y2="302.6" stroke="#6a6a6a" stroke-width="0.9"/>
<text x="380.90" y="311.0" font-size="8" text-anchor="middle" font-weight="normal" fill="#1a1a1a" >2</text>
<line x1="394.00" y1="299.3" x2="394.00" y2="302.6" stroke="#6a6a6a" stroke-width="0.9"/>
<line x1="407.10" y1="299.3" x2="407.10" y2="302.6" stroke="#6a6a6a" stroke-width="0.9"/>
<text x="407.10" y="311.0" font-size="8" text-anchor="middle" font-weight="normal" fill="#1a1a1a" >3</text>
<line x1="420.20" y1="299.3" x2="420.20" y2="302.6" stroke="#6a6a6a" stroke-width="0.9"/>
<line x1="433.30" y1="299.3" x2="433.30" y2="302.6" stroke="#6a6a6a" stroke-width="0.9"/>
<text x="433.30" y="311.0" font-size="8" text-anchor="middle" font-weight="normal" fill="#1a1a1a" >4</text>
<line x1="446.40" y1="299.3" x2="446.40" y2="302.6" stroke="#6a6a6a" stroke-width="0.9"/>
<line x1="459.50" y1="299.3" x2="459.50" y2="302.6" stroke="#6a6a6a" stroke-width="0.9"/>
<text x="459.50" y="311.0" font-size="8" text-anchor="middle" font-weight="normal" fill="#1a1a1a" >5</text>
<line x1="472.60" y1="299.3" x2="472.60" y2="302.6" stroke="#6a6a6a" stroke-width="0.9"/>
<line x1="485.70" y1="299.3" x2="485.70" y2="302.6" stroke="#6a6a6a" stroke-width="0.9"/>
<text x="485.70" y="311.0" font-size="8" text-anchor="middle" font-weight="normal" fill="#1a1a1a" >6</text>
<line x1="498.80" y1="299.3" x2="498.80" y2="302.6" stroke="#6a6a6a" stroke-width="0.9"/>
<line x1="511.90" y1="299.3" x2="511.90" y2="302.6" stroke="#6a6a6a" stroke-width="0.9"/>
<text x="511.90" y="311.0" font-size="8" text-anchor="middle" font-weight="normal" fill="#1a1a1a" >7</text>
<text x="419.90" y="318.8" font-size="8.2" text-anchor="middle" font-weight="normal" fill="#1a1a1a" >Years since commencing therapy</text>
<line x1="324.3" y1="205.1" x2="328.5" y2="205.1" stroke="#6a6a6a" stroke-width="0.9"/>
<text x="324.0" y="207.95" font-size="8" text-anchor="end" font-weight="normal" fill="#1a1a1a" >100</text>
<line x1="324.3" y1="223.9" x2="328.5" y2="223.9" stroke="#6a6a6a" stroke-width="0.9"/>
<text x="324.0" y="226.75" font-size="8" text-anchor="end" font-weight="normal" fill="#1a1a1a" >10</text>
<line x1="324.3" y1="242.7" x2="328.5" y2="242.7" stroke="#6a6a6a" stroke-width="0.9"/>
<text x="324.1" y="245.55" font-size="8" text-anchor="end" font-weight="normal" fill="#1a1a1a" textLength="15.6" lengthAdjust="spacingAndGlyphs">CCR</text>
<text transform="translate(306.6 239.9) rotate(-90)" font-size="8" text-anchor="middle" fill="#1a1a1a">BM Ph Chromosome (%)</text>
<text x="339.4" y="201.3" font-size="11" text-anchor="start" font-weight="bold" fill="#111" style="stroke:#111;stroke-width:0.3px">ii</text>
<line x1="329.0" y1="173.8" x2="329.0" y2="184.0" stroke="#555" stroke-width="0.6"/>
<path d="M326.10 181.40L329.00 182.90L331.90 181.40L329.00 185.00Z" fill="#111"/>
<text x="329.0" y="172.4" font-size="7.9" text-anchor="middle" font-weight="normal" fill="#1a1a1a" >1</text>
</svg>
</body></html>
